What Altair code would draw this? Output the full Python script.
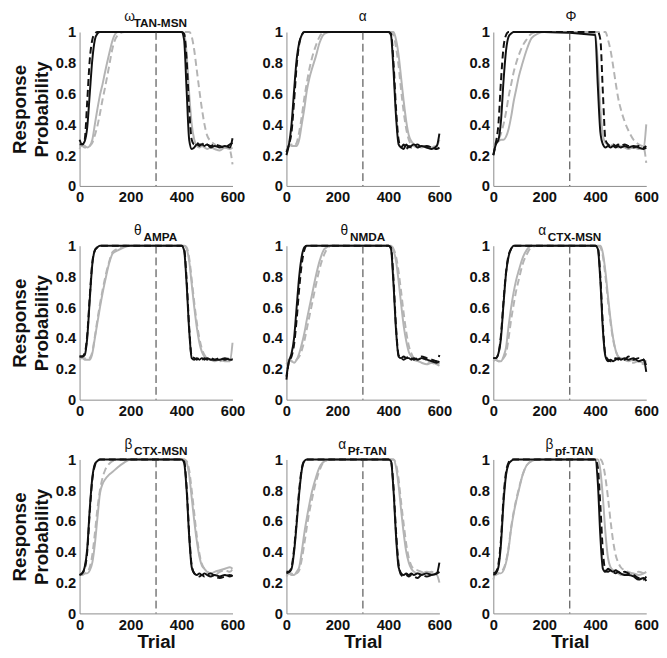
import altair as alt
import pandas as pd

# ---------------- data ----------------
TRIALS = [0, 10, 20, 30, 40, 50, 60, 70, 80, 90, 100, 115, 130, 150, 175, 200,
          400, 410, 420, 430, 440, 450, 460, 470, 480, 490, 500, 515, 530, 550, 570, 590, 600]

GREEK = ["ω", "α", "Φ", "θ", "θ", "α", "β", "α", "β"]
SUBSCRIPT = ["TAN-MSN", "", "", "AMPA", "NMDA", "CTX-MSN", "CTX-MSN", "Pf-TAN", "pf-TAN"]

X_TICKS = [0, 200, 400, 600]
Y_TICKS = [0, 0.2, 0.4, 0.6, 0.8, 1]
REVERSAL_TRIAL = [300]

# panel 1: omega TAN-MSN
P1_BLACK = [0.27, 0.27, 0.29, 0.38, 0.6, 0.82, 0.95, 0.99, 1, 1, 1, 1, 1, 1, 1, 1,
            1, 0.95, 0.62, 0.3, 0.24, 0.25, 0.27, 0.26, 0.27, 0.26, 0.27, 0.25, 0.26, 0.25, 0.26, 0.25, 0.31]
P1_BLACK_DASH = [0.3, 0.27, 0.3, 0.55, 0.82, 0.95, 0.99, 1, 1, 1, 1, 1, 1, 1, 1, 1,
                 1, 0.99, 0.82, 0.5, 0.3, 0.27, 0.28, 0.27, 0.27, 0.28, 0.27, 0.26, 0.27, 0.26, 0.25, 0.27, 0.28]
P1_GRAY = [0.24, 0.27, 0.26, 0.25, 0.26, 0.3, 0.4, 0.5, 0.59, 0.66, 0.74, 0.85, 0.95, 1, 1, 1,
           1, 0.99, 0.86, 0.6, 0.4, 0.3, 0.26, 0.25, 0.26, 0.25, 0.24, 0.25, 0.24, 0.23, 0.25, 0.24, 0.25]
P1_GRAY_DASH = [0.26, 0.26, 0.25, 0.25, 0.26, 0.28, 0.33, 0.39, 0.47, 0.56, 0.64, 0.77, 0.9, 0.98, 1, 1,
                1, 1, 1, 1, 0.97, 0.88, 0.75, 0.62, 0.5, 0.4, 0.33, 0.29, 0.27, 0.25, 0.25, 0.23, 0.14]

# panel 2: alpha
P2_BLACK = [0.2, 0.27, 0.4, 0.62, 0.82, 0.93, 0.98, 1, 1, 1, 1, 1, 1, 1, 1, 1,
            1, 0.98, 0.75, 0.45, 0.27, 0.25, 0.24, 0.27, 0.25, 0.26, 0.27, 0.25, 0.26, 0.25, 0.24, 0.26, 0.34]
P2_BLACK_DASH = [0.22, 0.27, 0.35, 0.55, 0.78, 0.92, 0.98, 1, 1, 1, 1, 1, 1, 1, 1, 1,
                 1, 0.99, 0.8, 0.5, 0.3, 0.25, 0.27, 0.24, 0.26, 0.25, 0.26, 0.27, 0.25, 0.26, 0.25, 0.24, 0.25]
P2_GRAY = [0.23, 0.27, 0.26, 0.26, 0.26, 0.3, 0.4, 0.5, 0.62, 0.7, 0.76, 0.84, 0.93, 0.99, 1, 1,
           1, 1, 1, 0.95, 0.85, 0.7, 0.55, 0.42, 0.33, 0.29, 0.27, 0.26, 0.25, 0.26, 0.25, 0.26, 0.3]
P2_GRAY_DASH = [0.25, 0.26, 0.27, 0.26, 0.28, 0.35, 0.45, 0.57, 0.67, 0.76, 0.83, 0.91, 0.97, 1, 1, 1,
                1, 1, 0.98, 0.9, 0.78, 0.62, 0.48, 0.37, 0.3, 0.27, 0.26, 0.25, 0.26, 0.25, 0.26, 0.25, 0.24]

# panel 3: phi
P3_BLACK = [0.2, 0.27, 0.3, 0.42, 0.68, 0.88, 0.97, 0.99, 1, 1, 1, 1, 1, 1, 1, 1,
            0.98, 0.65, 0.35, 0.27, 0.25, 0.26, 0.25, 0.26, 0.25, 0.26, 0.25, 0.26, 0.25, 0.26, 0.25, 0.24, 0.25]
P3_BLACK_DASH = [0.2, 0.28, 0.4, 0.68, 0.9, 0.98, 1, 1, 1, 1, 1, 1, 1, 1, 1, 1,
                 1, 1, 0.95, 0.6, 0.3, 0.27, 0.26, 0.27, 0.26, 0.27, 0.26, 0.27, 0.26, 0.25, 0.26, 0.25, 0.26]
P3_GRAY = [0.27, 0.28, 0.29, 0.3, 0.3, 0.32, 0.37, 0.45, 0.55, 0.63, 0.71, 0.8, 0.88, 0.96, 0.99, 1,
           0.99, 0.8, 0.5, 0.33, 0.28, 0.27, 0.26, 0.27, 0.26, 0.25, 0.26, 0.25, 0.24, 0.25, 0.24, 0.25, 0.4]
P3_GRAY_DASH = [0.25, 0.27, 0.3, 0.34, 0.4, 0.48, 0.58, 0.66, 0.74, 0.8, 0.85, 0.91, 0.95, 0.99, 1, 1,
                1, 1, 1, 1, 1, 0.95, 0.88, 0.78, 0.67, 0.57, 0.5, 0.42, 0.36, 0.3, 0.27, 0.25, 0.15]

# panel 4: theta AMPA
P4_BLACK = [0.28, 0.28, 0.29, 0.4, 0.65, 0.88, 0.97, 0.99, 1, 1, 1, 1, 1, 1, 1, 1,
            1, 0.97, 0.75, 0.45, 0.27, 0.26, 0.27, 0.26, 0.27, 0.26, 0.27, 0.26, 0.26, 0.26, 0.27, 0.26, 0.26]
P4_BLACK_DASH = [0.28, 0.28, 0.3, 0.42, 0.67, 0.89, 0.97, 0.99, 1, 1, 1, 1, 1, 1, 1, 1,
                 1, 0.98, 0.78, 0.47, 0.28, 0.27, 0.26, 0.27, 0.26, 0.27, 0.26, 0.27, 0.26, 0.27, 0.26, 0.27, 0.26]
P4_GRAY = [0.27, 0.27, 0.26, 0.26, 0.26, 0.3, 0.4, 0.5, 0.6, 0.69, 0.77, 0.88, 0.95, 0.97, 0.99, 1,
           1, 1, 0.98, 0.9, 0.75, 0.6, 0.47, 0.37, 0.31, 0.28, 0.27, 0.26, 0.25, 0.26, 0.25, 0.25, 0.37]
P4_GRAY_DASH = [0.26, 0.27, 0.27, 0.26, 0.27, 0.31, 0.41, 0.52, 0.62, 0.71, 0.79, 0.89, 0.96, 0.98, 1, 1,
                1, 1, 0.99, 0.92, 0.78, 0.63, 0.5, 0.4, 0.33, 0.29, 0.27, 0.26, 0.26, 0.25, 0.26, 0.26, 0.27]

# panel 5: theta NMDA
P5_BLACK = [0.15, 0.25, 0.3, 0.4, 0.6, 0.8, 0.93, 0.99, 1, 1, 1, 1, 1, 1, 1, 1,
            1, 0.98, 0.75, 0.45, 0.28, 0.27, 0.28, 0.27, 0.27, 0.26, 0.27, 0.26, 0.27, 0.26, 0.25, 0.24, 0.25]
P5_BLACK_DASH = [0.13, 0.25, 0.28, 0.36, 0.52, 0.72, 0.88, 0.97, 1, 1, 1, 1, 1, 1, 1, 1,
                 1, 0.99, 0.78, 0.47, 0.29, 0.27, 0.26, 0.27, 0.28, 0.27, 0.26, 0.27, 0.28, 0.27, 0.26, 0.25, 0.29]
P5_GRAY = [0.23, 0.26, 0.25, 0.24, 0.26, 0.3, 0.36, 0.43, 0.52, 0.6, 0.68, 0.8, 0.9, 0.98, 1, 1,
           1, 1, 0.97, 0.9, 0.77, 0.62, 0.48, 0.38, 0.31, 0.28, 0.26, 0.25, 0.24, 0.23, 0.24, 0.23, 0.22]
P5_GRAY_DASH = [0.25, 0.26, 0.25, 0.25, 0.26, 0.28, 0.32, 0.38, 0.46, 0.54, 0.62, 0.74, 0.85, 0.95, 1, 1,
                1, 1, 0.98, 0.93, 0.83, 0.7, 0.56, 0.44, 0.35, 0.3, 0.27, 0.26, 0.27, 0.25, 0.24, 0.23, 0.24]

# panel 6: alpha CTX-MSN
P6_BLACK = [0.27, 0.27, 0.3, 0.4, 0.62, 0.82, 0.93, 0.98, 1, 1, 1, 1, 1, 1, 1, 1,
            1, 0.98, 0.77, 0.45, 0.28, 0.25, 0.26, 0.25, 0.26, 0.27, 0.26, 0.27, 0.26, 0.27, 0.25, 0.26, 0.18]
P6_BLACK_DASH = [0.27, 0.27, 0.3, 0.42, 0.64, 0.83, 0.94, 0.98, 1, 1, 1, 1, 1, 1, 1, 1,
                 1, 0.99, 0.8, 0.48, 0.29, 0.26, 0.25, 0.26, 0.27, 0.26, 0.27, 0.26, 0.28, 0.26, 0.27, 0.26, 0.22]
P6_GRAY = [0.25, 0.26, 0.25, 0.25, 0.28, 0.34, 0.48, 0.6, 0.7, 0.78, 0.84, 0.92, 0.97, 1, 1, 1,
           1, 1, 1, 0.95, 0.83, 0.67, 0.52, 0.4, 0.32, 0.28, 0.27, 0.26, 0.25, 0.26, 0.25, 0.24, 0.25]
P6_GRAY_DASH = [0.26, 0.26, 0.25, 0.25, 0.27, 0.3, 0.4, 0.52, 0.62, 0.71, 0.78, 0.88, 0.94, 0.99, 1, 1,
                1, 1, 0.99, 0.93, 0.8, 0.64, 0.5, 0.39, 0.32, 0.28, 0.27, 0.26, 0.25, 0.24, 0.25, 0.23, 0.27]

# panel 7: beta CTX-MSN
P7_BLACK = [0.25, 0.26, 0.3, 0.42, 0.68, 0.88, 0.97, 0.99, 1, 1, 1, 1, 1, 1, 1, 1,
            1, 0.98, 0.8, 0.5, 0.3, 0.26, 0.25, 0.26, 0.25, 0.26, 0.25, 0.24, 0.25, 0.24, 0.25, 0.24, 0.25]
P7_BLACK_DASH = [0.25, 0.26, 0.29, 0.4, 0.66, 0.87, 0.96, 0.99, 1, 1, 1, 1, 1, 1, 1, 1,
                 1, 0.99, 0.82, 0.52, 0.31, 0.26, 0.25, 0.24, 0.25, 0.24, 0.25, 0.26, 0.24, 0.23, 0.24, 0.25, 0.24]
P7_GRAY = [0.25, 0.25, 0.26, 0.26, 0.28, 0.33, 0.45, 0.62, 0.78, 0.84, 0.87, 0.9, 0.92, 0.95, 0.98, 1,
           1, 1, 0.98, 0.9, 0.75, 0.6, 0.47, 0.37, 0.31, 0.29, 0.27, 0.26, 0.27, 0.28, 0.29, 0.3, 0.29]
P7_GRAY_DASH = [0.25, 0.25, 0.26, 0.27, 0.3, 0.38, 0.52, 0.68, 0.8, 0.88, 0.93, 0.97, 0.99, 1, 1, 1,
                1, 1, 0.99, 0.93, 0.8, 0.65, 0.5, 0.39, 0.32, 0.29, 0.27, 0.26, 0.25, 0.27, 0.28, 0.27, 0.29]

# panel 8: alpha Pf-TAN
P8_BLACK = [0.27, 0.27, 0.29, 0.4, 0.58, 0.78, 0.93, 0.99, 1, 1, 1, 1, 1, 1, 1, 1,
            1, 0.99, 0.8, 0.5, 0.3, 0.26, 0.25, 0.26, 0.25, 0.26, 0.25, 0.26, 0.25, 0.26, 0.25, 0.26, 0.33]
P8_BLACK_DASH = [0.26, 0.27, 0.3, 0.42, 0.6, 0.8, 0.94, 0.99, 1, 1, 1, 1, 1, 1, 1, 1,
                 1, 0.99, 0.82, 0.53, 0.32, 0.25, 0.24, 0.25, 0.24, 0.25, 0.24, 0.23, 0.25, 0.24, 0.25, 0.26, 0.27]
P8_GRAY = [0.24, 0.26, 0.25, 0.25, 0.27, 0.3, 0.4, 0.52, 0.62, 0.71, 0.79, 0.88, 0.95, 0.99, 1, 1,
           1, 1, 1, 0.95, 0.83, 0.67, 0.52, 0.4, 0.33, 0.29, 0.27, 0.26, 0.26, 0.27, 0.26, 0.25, 0.2]
P8_GRAY_DASH = [0.25, 0.26, 0.26, 0.25, 0.26, 0.28, 0.35, 0.45, 0.56, 0.66, 0.74, 0.85, 0.93, 0.99, 1, 1,
                1, 1, 1, 0.97, 0.87, 0.72, 0.58, 0.45, 0.36, 0.31, 0.29, 0.28, 0.27, 0.26, 0.27, 0.26, 0.27]

# panel 9: beta pf-TAN
P9_BLACK = [0.25, 0.26, 0.3, 0.45, 0.72, 0.9, 0.97, 0.99, 1, 1, 1, 1, 1, 1, 1, 1,
            1, 0.85, 0.5, 0.29, 0.27, 0.29, 0.28, 0.27, 0.28, 0.27, 0.26, 0.25, 0.25, 0.24, 0.22, 0.23, 0.21]
P9_BLACK_DASH = [0.26, 0.27, 0.32, 0.48, 0.75, 0.92, 0.98, 1, 1, 1, 1, 1, 1, 1, 1, 1,
                 1, 0.95, 0.7, 0.4, 0.28, 0.27, 0.28, 0.27, 0.26, 0.27, 0.26, 0.27, 0.26, 0.25, 0.23, 0.22, 0.24]
P9_GRAY = [0.22, 0.26, 0.26, 0.26, 0.28, 0.33, 0.42, 0.55, 0.65, 0.73, 0.8, 0.9, 0.96, 0.99, 1, 1,
           1, 1, 0.93, 0.75, 0.52, 0.36, 0.3, 0.28, 0.27, 0.26, 0.25, 0.26, 0.25, 0.26, 0.25, 0.26, 0.27]
P9_GRAY_DASH = [0.25, 0.25, 0.26, 0.27, 0.29, 0.34, 0.43, 0.56, 0.66, 0.74, 0.81, 0.9, 0.96, 0.99, 1, 1,
                1, 1, 1, 0.97, 0.88, 0.75, 0.6, 0.47, 0.38, 0.33, 0.3, 0.28, 0.27, 0.26, 0.27, 0.26, 0.25]

PANELS = [
    (P1_BLACK, P1_BLACK_DASH, P1_GRAY, P1_GRAY_DASH),
    (P2_BLACK, P2_BLACK_DASH, P2_GRAY, P2_GRAY_DASH),
    (P3_BLACK, P3_BLACK_DASH, P3_GRAY, P3_GRAY_DASH),
    (P4_BLACK, P4_BLACK_DASH, P4_GRAY, P4_GRAY_DASH),
    (P5_BLACK, P5_BLACK_DASH, P5_GRAY, P5_GRAY_DASH),
    (P6_BLACK, P6_BLACK_DASH, P6_GRAY, P6_GRAY_DASH),
    (P7_BLACK, P7_BLACK_DASH, P7_GRAY, P7_GRAY_DASH),
    (P8_BLACK, P8_BLACK_DASH, P8_GRAY, P8_GRAY_DASH),
    (P9_BLACK, P9_BLACK_DASH, P9_GRAY, P9_GRAY_DASH),
]

# ---------------- styling ----------------
W = 156
H = 157
BLACK = "#111111"
GRAY = "#b4b4b4"
DASH = [7, 4]
FONT = "Liberation Sans"
GREEK_SIZE = 14
SUB_SIZE = 12

BOLD_W = {"T": .611, "A": .722, "N": .722, "-": .333, "M": .833, "S": .667, "P": .667,
          "D": .722, "C": .722, "X": .667, "f": .333, "p": .611}


def text_width(s, size):
    return sum(BOLD_W.get(c, .6) for c in s) * size


rows = []
for r in range(3):
    row_panels = []
    for c in range(3):
        i = r * 3 + c
        black, black_dash, gray, gray_dash = PANELS[i]
        frames = []
        for name, vals in (("gray", gray), ("gray_dash", gray_dash),
                           ("black", black), ("black_dash", black_dash)):
            frames.append(pd.DataFrame({"x": TRIALS, "y": vals, "s": name}))
        df = pd.concat(frames, ignore_index=True)

        xkw = dict(values=X_TICKS, labelFlush=False, grid=False)
        xkw["title"] = "Trial" if r == 2 else ""
        ykw = dict(values=Y_TICKS, format=".1~f", grid=False)
        ykw["title"] = ["Response", "Probability"] if c == 0 else ""

        x_enc = alt.X("x:Q", scale=alt.Scale(domain=[0, 600], nice=False), axis=alt.Axis(**xkw))
        y_enc = alt.Y("y:Q", scale=alt.Scale(domain=[0, 1], nice=False), axis=alt.Axis(**ykw))

        base = alt.Chart(df)
        layers = []
        for name, color, dash in (("gray", GRAY, None), ("gray_dash", GRAY, DASH),
                                  ("black", BLACK, None), ("black_dash", BLACK, DASH)):
            mk = dict(color=color, strokeWidth=2, interpolate="monotone")
            if dash:
                mk["strokeDash"] = dash
            layers.append(
                base.transform_filter(alt.datum.s == name).mark_line(**mk).encode(x=x_enc, y=y_enc)
            )

        rule = alt.Chart(pd.DataFrame({"x": REVERSAL_TRIAL})).mark_rule(
            color="#333333", strokeWidth=1, strokeDash=[8, 4]
        ).encode(x=x_enc)
        layers.append(rule)

        # title: Greek letter with bold subscript
        greek = GREEK[i]
        sub = SUBSCRIPT[i]
        gw = 0.62 * GREEK_SIZE
        sw = text_width(sub, SUB_SIZE) if sub else 0
        total = gw + (sw + 1 if sub else 0)
        x0 = W / 2 - total / 2
        layers.append(
            alt.Chart(pd.DataFrame({"t": [greek]})).mark_text(
                font=FONT, fontSize=GREEK_SIZE, align="left", baseline="alphabetic", color="#111111"
            ).encode(text="t:N", x=alt.value(x0), y=alt.value(-11))
        )
        if sub:
            layers.append(
                alt.Chart(pd.DataFrame({"t": [sub]})).mark_text(
                    font=FONT, fontSize=SUB_SIZE, fontWeight="bold", align="left",
                    baseline="alphabetic", color="#111111"
                ).encode(text="t:N", x=alt.value(x0 + gw + 1), y=alt.value(-5))
            )

        row_panels.append(alt.layer(*layers).properties(width=W, height=H))
    rows.append(alt.hconcat(*row_panels, spacing=17))

chart = alt.vconcat(*rows, spacing=20).properties(
    padding={"left": 3, "top": -4, "right": 0, "bottom": 0}
).configure_view(stroke=None).configure_axis(
    domainColor="#8a8a8a",
    domainWidth=1,
    ticks=False,
    labelFont=FONT,
    labelFontWeight="bold",
    labelFontSize=15,
    labelColor="#111111",
    labelPadding=4,
    titleFont=FONT,
    titleFontWeight="bold",
    titleFontSize=19,
    titleColor="#111111",
    titleLineHeight=22,
).configure_axisX(titlePadding=1).configure_axisY(titlePadding=4)

chart.save("out.html", embed_options={"renderer": "svg", "actions": False})
